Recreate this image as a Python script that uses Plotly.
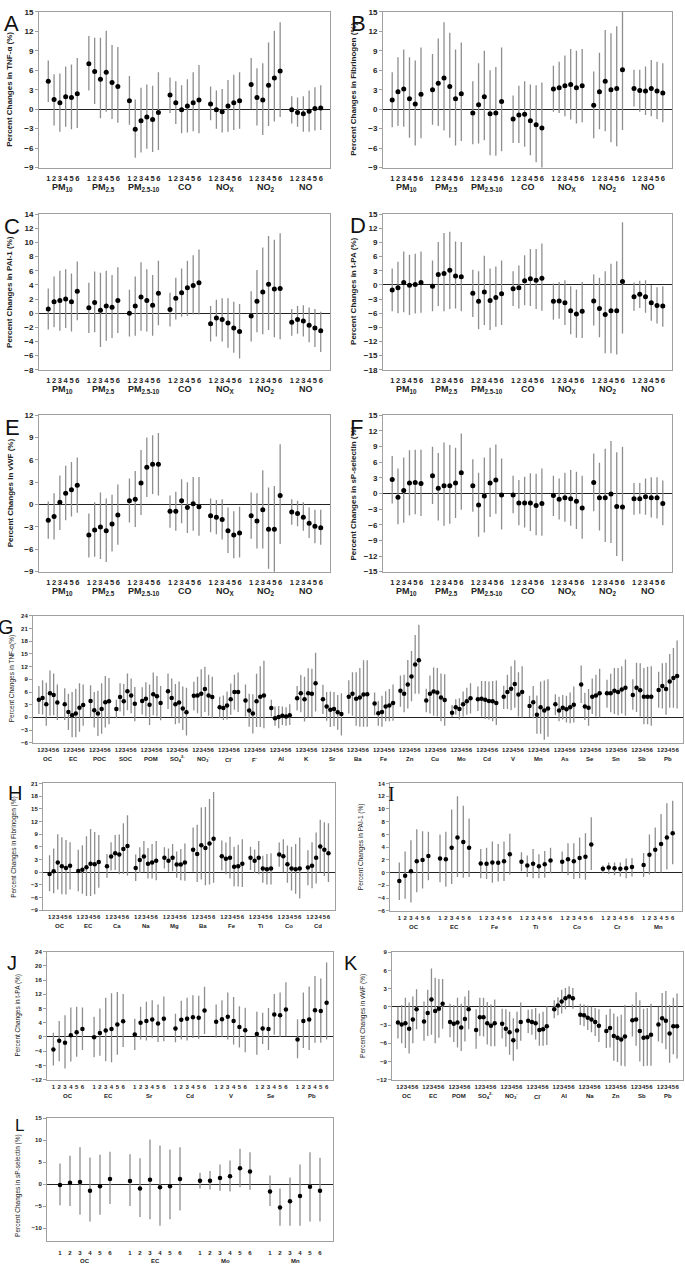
import plotly.graph_objects as go

# ---------------- DATA ----------------
GAS_GROUPS = ["PM<sub>10</sub>", "PM<sub>2.5</sub>", "PM<sub>2.5-10</sub>", "CO", "NO<sub>X</sub>", "NO<sub>2</sub>", "NO"]

A_est = [[4.3,1.5,1.0,1.9,1.8,2.4],[7.0,5.8,4.6,5.7,4.1,3.5],[1.3,-3.1,-1.8,-1.2,-1.6,-0.5],
         [2.2,1.0,-0.1,0.5,1.0,1.4],[0.8,-0.1,-0.4,0.5,1.0,1.3],[3.8,1.8,1.4,3.7,4.8,5.9],[-0.1,-0.5,-0.7,-0.3,0.1,0.2]]
A_hi = [[7.5,5.4,5.5,6.6,6.9,7.9],[11.3,11.0,11.0,12.1,9.9,9.6],[5.1,1.5,3.3,3.8,3.6,5.7],
        [4.9,4.3,3.7,4.6,5.7,6.8],[3.5,2.9,3.1,4.5,5.3,5.7],[7.9,6.3,7.1,10.3,12.1,13.4],[2.0,1.8,2.0,2.9,3.4,3.7]]
A_lo = [[1.1,-2.5,-3.5,-2.7,-3.1,-2.9],[2.9,0.8,-1.4,-0.4,-1.5,-2.1],[-2.4,-7.5,-6.7,-6.1,-6.6,-6.3],
        [-0.6,-2.3,-3.7,-3.6,-3.4,-3.7],[-1.7,-3.0,-3.6,-3.5,-3.2,-3.0],[0.0,-2.5,-4.0,-2.6,-1.9,-1.2],[-2.2,-2.7,-3.5,-3.5,-3.3,-3.2]]

B_est = [[1.4,2.7,3.1,1.6,0.8,2.3],[3.0,4.0,4.8,3.5,1.6,2.4],[-0.6,0.7,1.9,-0.7,-0.6,1.2],
         [-1.5,-0.9,-0.8,-1.8,-2.4,-2.9],[3.1,3.3,3.6,3.8,3.3,3.6],[0.6,2.7,4.3,3.0,3.2,6.1],[3.2,2.9,2.8,3.2,2.8,2.5]]
B_hi = [[5.7,8.0,9.2,8.0,7.5,9.5],[8.5,10.9,13.4,11.8,9.2,10.3],[4.3,7.1,9.0,6.0,6.5,9.5],
        [2.1,3.6,4.3,3.8,3.7,4.1],[6.7,7.3,8.3,9.3,9.0,9.3],[5.8,8.7,12.2,11.7,12.8,16.0],[6.1,6.1,6.6,7.6,7.3,7.1]]
B_lo = [[-2.8,-2.6,-2.7,-4.4,-5.6,-4.5],[-2.4,-2.6,-3.3,-4.4,-5.6,-4.9],[-5.4,-5.3,-4.8,-7.1,-7.2,-6.5],
        [-5.2,-5.2,-5.8,-7.1,-8.2,-9.5],[-0.4,-0.6,-1.1,-1.6,-2.2,-2.0],[-4.5,-3.1,-3.4,-5.1,-5.7,-3.2],[0.4,-0.4,-0.9,-1.1,-1.5,-2.0]]

C_est = [[0.6,1.6,1.8,2.0,1.6,3.1],[0.75,1.5,0.4,1.0,0.85,1.8],[0.0,1.0,2.3,1.8,1.1,2.8],
         [0.5,2.1,2.9,3.6,3.9,4.3],[-1.5,-0.7,-0.9,-1.4,-2.1,-2.6],[-0.4,1.7,3.0,4.1,3.4,3.5],[-1.3,-0.9,-1.1,-1.7,-2.1,-2.5]]
C_hi = [[3.5,5.2,6.0,6.2,5.6,7.3],[4.3,5.9,5.7,6.0,5.4,6.5],[3.3,5.2,7.2,6.2,5.4,7.4],
        [2.9,5.0,6.3,7.4,8.2,9.0],[1.0,1.9,2.1,2.1,1.6,1.3],[3.1,6.1,9.3,10.9,10.4,11.3],[0.6,1.0,1.1,0.8,0.6,0.2]]
C_lo = [[-2.3,-2.0,-2.5,-2.1,-2.6,-1.0],[-2.8,-2.7,-4.8,-3.9,-3.5,-2.8],[-3.3,-3.2,-2.5,-2.6,-3.2,-1.7],
        [-1.9,-0.9,-0.5,-0.4,-0.2,-0.2],[-4.0,-3.3,-4.0,-4.9,-5.6,-6.4],[-4.0,-2.7,-3.0,-2.4,-3.4,-3.7],[-3.2,-2.9,-3.3,-4.1,-4.8,-5.5]]

D_est = [[-1.1,-0.6,0.5,-0.1,0.1,0.5],[-0.3,2.2,2.4,3.1,1.9,1.7],[-1.8,-3.5,-1.5,-3.3,-2.7,-1.9],
         [-0.8,-0.6,0.9,1.3,1.0,1.4],[-3.5,-3.4,-3.8,-5.5,-6.2,-5.6],[-3.4,-5.0,-6.3,-5.5,-5.5,0.7],[-2.5,-2.0,-2.5,-3.8,-4.4,-4.5]]
D_hi = [[3.5,4.9,7.1,6.4,6.6,7.1],[5.2,9.1,11.0,11.3,9.2,9.1],[3.2,2.9,6.2,3.5,3.9,5.2],
        [2.9,4.1,6.3,7.6,7.6,8.8],[0.3,0.6,1.0,-0.3,-1.0,0.6],[2.2,1.5,2.9,4.5,5.0,13.3],[0.5,0.9,1.0,0.0,-0.5,-0.3]]
D_lo = [[-5.6,-6.0,-5.8,-6.4,-6.1,-5.9],[-5.6,-4.5,-5.6,-5.1,-5.0,-5.6],[-6.8,-9.4,-8.5,-9.6,-8.9,-8.5],
        [-4.5,-5.0,-4.3,-4.5,-5.1,-5.5],[-7.4,-7.2,-8.5,-10.5,-11.2,-11.3],[-8.6,-11.1,-14.5,-14.5,-14.8,-10.3],[-5.5,-4.9,-5.9,-7.6,-8.2,-8.9]]

E_est = [[-2.1,-1.6,0.3,1.5,2.0,2.6],[-4.1,-3.4,-3.0,-3.5,-2.6,-1.4],[0.5,0.7,2.9,5.0,5.4,5.4],
         [-0.9,-0.9,0.5,-0.4,0.1,-0.3],[-1.5,-1.7,-2.0,-3.5,-4.1,-3.8],[-1.5,-2.2,-0.7,-3.3,-3.3,1.2],[-1.0,-1.2,-1.7,-2.5,-2.9,-3.1]]
E_hi = [[0.4,1.5,3.9,5.2,5.7,6.3],[-1.2,0.3,1.6,0.8,1.3,2.7],[3.5,4.5,7.3,9.0,9.3,9.6],
        [1.2,1.7,3.4,3.0,3.7,3.7],[0.8,0.6,0.7,-0.4,-0.9,-0.3],[1.6,1.5,4.6,2.3,2.5,8.1],[0.7,0.5,0.3,-0.4,-0.7,-0.7]]
E_lo = [[-4.6,-4.7,-3.4,-2.1,-1.6,-1.1],[-7.1,-7.0,-7.3,-7.7,-6.3,-5.4],[-2.4,-3.0,-1.4,1.0,1.4,1.2],
        [-3.1,-3.5,-2.5,-3.8,-3.5,-4.2],[-3.7,-4.0,-4.7,-6.5,-7.2,-7.1],[-4.6,-5.9,-5.9,-8.6,-9.5,-5.3],[-2.7,-2.9,-3.5,-4.5,-5.2,-5.4]]

F_est = [[2.7,-0.7,0.6,2.0,2.1,1.9],[3.4,1.0,1.5,1.5,2.0,4.0],[1.5,-2.2,-0.5,2.0,2.6,-0.3],
         [-0.3,-1.8,-1.8,-1.8,-2.3,-1.9],[-0.4,-1.1,-0.8,-1.0,-1.5,-2.8],[2.1,-0.8,-0.8,-0.1,-2.5,-2.6],[-1.0,-1.0,-0.6,-0.8,-0.8,-1.9]]
F_hi = [[7.2,4.8,6.9,8.3,8.4,8.4],[9.0,7.8,9.8,9.3,8.8,11.5],[6.6,4.0,6.9,8.8,9.4,6.7],
        [3.4,2.6,3.2,3.9,3.8,4.8],[3.4,2.9,4.0,4.5,4.2,3.4],[7.7,5.9,8.6,10.1,7.9,9.0],[2.0,2.0,2.9,3.1,3.1,2.5]]
F_lo = [[-1.9,-5.9,-5.6,-4.2,-4.0,-4.3],[-2.0,-5.2,-6.2,-5.8,-4.7,-3.1],[-3.5,-8.3,-7.5,-4.5,-3.9,-6.9],
        [-3.8,-6.1,-6.5,-7.2,-8.0,-8.1],[-4.3,-5.0,-5.4,-6.2,-6.8,-8.7],[-3.4,-7.1,-9.3,-9.5,-12.0,-13.0],[-4.1,-3.9,-4.1,-4.6,-4.8,-6.1]]

G_groups = ["OC","EC","POC","SOC","POM","SO<sub>4</sub><sup>2-</sup>","NO<sub>3</sub><sup>-</sup>","Cl<sup>-</sup>","F<sup>-</sup>",
            "Al","K","Sr","Ba","Fe","Zn","Cu","Mo","Cd","V","Mn","As","Se","Sn","Sb","Pb"]
G_est = [[4.2,4.6,3.1,5.7,5.3,3.5],[3.1,1.3,0.5,0.9,2.3,2.9],[3.9,1.7,0.9,2.0,3.6,3.8],[2.0,4.8,3.8,6.2,5.2,3.2],
         [3.9,4.4,3.0,5.5,5.0,3.4],[6.2,4.6,3.1,3.5,2.1,1.2],[5.1,5.2,5.6,6.7,5.2,4.8],[2.4,2.2,2.8,4.3,6.0,6.0],
         [4.0,1.6,0.9,3.8,4.9,5.2],[2.2,-0.2,0.1,0.4,0.2,0.5],[4.5,5.7,4.3,5.7,5.6,8.1],[4.3,2.6,1.8,2.0,1.2,0.8],
         [4.9,5.6,4.4,4.7,5.4,5.5],[3.3,1.0,1.3,2.6,2.8,3.4],[6.3,5.6,7.8,9.7,12.5,13.5],[4.0,5.6,6.1,5.9,4.7,4.1],
         [1.1,2.4,2.0,3.1,3.8,4.5],[4.3,4.4,4.2,3.9,3.8,3.4],[4.9,6.0,6.8,7.9,5.4,6.0],[2.7,3.6,0.6,2.4,1.6,2.1],
         [3.1,1.6,2.3,1.9,2.4,3.0],[7.8,2.6,2.3,4.9,5.2,5.7],[5.7,5.7,6.3,6.0,6.6,7.0],[5.3,7.0,6.4,4.9,4.9,4.9],
         [6.5,7.4,6.7,8.5,9.3,9.8]]
G_hi = [[7.4,8.8,8.2,11.1,10.4,7.8],[6.9,5.6,6.0,6.8,8.1,7.8],[7.6,6.0,6.3,8.1,9.8,9.3],[4.2,8.1,7.9,10.4,9.2,7.2],
        [7.1,8.3,7.8,10.6,9.8,7.4],[10.4,9.2,7.9,8.5,7.3,7.0],[8.4,9.6,11.4,12.0,10.1,9.6],[4.9,5.2,6.1,8.0,10.1,10.6],
        [7.8,5.6,5.5,10.3,12.1,13.4],[4.2,2.6,2.7,2.6,2.4,3.1],[7.4,10.0,9.6,11.6,11.5,15.3],[7.7,6.0,6.1,6.0,5.3,5.7],
        [8.8,10.7,10.7,11.7,13.5,13.5],[5.9,3.9,5.1,6.2,6.7,7.8],[9.9,10.1,13.6,15.7,19.5,21.9],[6.8,9.9,11.8,11.7,10.4,10.2],
        [2.9,4.3,4.5,6.1,7.0,8.1],[7.3,8.6,8.6,8.5,8.6,8.7],[7.5,10.1,12.1,13.5,10.7,12.1],[5.1,7.4,5.2,8.5,8.7,9.0],
        [5.5,4.9,5.3,5.1,5.9,7.3],[12.3,5.8,6.7,9.2,10.1,11.5],[8.9,10.3,11.7,11.7,12.1,13.7],[9.0,12.9,12.8,11.7,12.0,12.1],
        [10.8,12.8,12.9,15.0,16.4,18.2]]
G_lo = [[0.8,0.7,-2.0,0.4,0.5,-0.6],[-0.6,-3.0,-4.7,-4.7,-3.4,-2.0],[0.0,-2.4,-4.4,-3.9,-2.4,-1.6],[-0.2,1.4,0.4,1.7,1.0,-0.9],
        [0.7,0.2,-1.8,0.5,0.2,-0.7],[2.0,0.2,-1.6,-1.4,-3.0,-4.3],[1.6,1.0,-0.1,1.3,0.4,-0.2],[-0.2,-0.6,-0.5,0.6,1.8,1.3],
        [0.2,-2.2,-3.8,-2.3,-2.3,-2.6],[0.2,-2.0,-2.6,-1.8,-2.0,-1.8],[1.6,1.2,-1.0,0.0,0.0,1.4],[0.8,-0.8,-2.3,-2.1,-2.9,-4.3],
        [0.9,0.4,-2.0,-2.2,-2.2,-2.2],[0.5,-2.0,-2.2,-0.9,-0.9,-0.8],[2.5,1.2,2.1,3.8,5.6,5.6],[1.2,0.9,0.4,0.2,-0.9,-2.0],
        [0.1,0.6,-0.5,0.2,0.6,0.9],[1.5,0.2,-0.4,-0.5,-0.9,-1.8],[2.0,2.0,1.7,2.3,0.2,0.0],[0.1,-0.2,-3.9,-3.9,-5.3,-4.6],
        [0.5,-0.9,-0.5,-1.2,-1.4,-1.2],[3.4,-0.6,-2.0,0.8,0.2,0.0],[2.3,1.2,0.8,0.5,0.9,0.4],[1.8,1.3,0.2,-1.6,-1.6,-2.0],
        [2.3,2.1,0.6,2.3,2.3,2.1]]

H_groups = ["OC","EC","Ca","Na","Mg","Ba","Fe","Ti","Co","Cd"]
H_est = [[-0.4,0.2,2.3,1.4,1.0,1.5],[0.3,0.6,1.2,2.0,1.9,2.4],[1.4,3.7,4.5,4.2,5.5,6.2],[1.0,2.9,3.7,2.0,2.3,2.7],
         [3.4,2.7,3.4,1.8,1.8,2.3],[5.3,4.3,6.4,5.7,6.8,7.9],[3.8,3.2,3.4,1.3,1.4,2.0],[3.4,2.7,3.4,0.9,0.7,0.9],
         [4.2,3.8,1.9,0.9,0.7,0.9],[1.1,1.5,3.4,6.1,5.3,4.5]]
H_hi = [[4.0,5.6,9.0,8.3,7.6,7.1],[5.3,6.4,8.5,10.2,9.5,8.8],[4.3,7.1,8.8,8.9,11.6,13.5],[4.2,5.9,7.4,5.7,6.7,7.4],
        [5.9,5.6,6.7,4.9,5.5,6.8],[10.6,11.2,15.3,15.4,17.3,19.0],[7.5,7.0,8.4,6.0,6.5,7.8],[6.0,5.4,7.4,3.9,4.3,4.5],
        [7.0,7.8,6.3,6.0,6.7,8.2],[5.2,7.1,9.4,12.4,11.8,11.6]]
H_lo = [[-4.5,-5.0,-4.1,-5.2,-5.3,-4.1],[-4.5,-5.1,-5.6,-5.6,-5.2,-3.7],[-1.3,0.4,0.5,-0.5,-0.4,-0.8],[-2.1,-0.2,0.0,-1.5,-1.5,-1.9],
        [0.9,0.0,0.2,-1.3,-1.9,-2.0],[0.1,-2.3,-1.7,-3.1,-2.9,-2.5],[0.4,-0.5,-1.5,-3.3,-3.4,-3.5],[0.5,-0.2,-0.5,-2.5,-2.9,-2.9],
        [1.3,0.0,-2.5,-4.3,-5.1,-6.2],[-3.1,-3.8,-2.7,0.0,-0.9,-2.3]]

I_groups = ["OC","EC","Fe","Ti","Co","Cr","Mn"]
I_est = [[-1.3,-0.5,0.2,1.8,2.0,2.6],[2.2,2.1,3.9,5.5,4.8,3.9],[1.45,1.4,1.6,1.55,1.8,2.9],[1.7,1.1,1.4,1.0,1.3,1.9],
         [1.7,2.1,1.8,2.3,2.5,4.4],[0.6,0.8,0.7,0.6,0.7,0.9],[1.2,2.8,3.6,4.5,5.5,6.2]]
I_hi = [[1.6,3.3,5.1,6.8,6.5,6.4],[6.0,6.4,9.9,12.0,10.5,8.5],[3.7,3.9,4.9,4.5,4.9,6.1],[3.2,2.7,3.7,2.9,3.4,3.9],
        [3.3,4.6,4.6,5.5,6.2,8.7],[1.1,1.6,1.6,1.6,2.2,2.3],[3.1,6.0,7.1,9.2,10.9,11.3]]
I_lo = [[-4.3,-4.1,-4.7,-3.1,-2.5,-1.2],[-1.5,-2.2,-1.8,-0.7,-0.8,-0.7],[-0.9,-1.0,-1.6,-1.4,-1.3,-0.3],[0.2,-0.7,-0.9,-0.9,-0.8,-0.1],
        [0.0,-0.4,-1.0,-0.9,-1.1,0.4],[-0.05,-0.2,-0.4,-0.6,-0.9,-0.6],[-0.7,-0.3,0.0,0.0,0.5,1.3]]

J_groups = ["OC","EC","Sr","Cd","V","Se","Pb"]
J_est = [[-3.5,-1.1,-1.6,0.5,1.3,2.2],[-0.1,1.1,1.8,2.2,3.5,4.4],[0.7,4.0,4.5,4.9,3.8,5.1],[2.4,4.8,5.1,5.5,5.4,7.4],
         [4.3,5.0,5.7,4.5,2.8,1.9],[0.8,2.4,2.2,6.3,6.1,7.7],[-0.7,4.5,4.9,7.5,7.3,9.6]]
J_hi = [[1.2,4.5,6.1,8.3,8.5,8.3],[5.7,8.0,11.0,12.3,12.6,12.1],[5.1,8.5,9.9,10.3,9.1,11.4],[6.5,10.2,11.0,11.7,11.6,14.1],
        [9.1,10.3,12.5,11.2,8.6,8.2],[7.1,6.8,8.1,12.1,12.5,15.4],[5.0,12.5,14.2,17.1,16.4,20.9]]
J_lo = [[-8.0,-6.8,-8.9,-6.9,-5.6,-3.7],[-5.7,-5.3,-6.8,-7.1,-5.0,-2.8],[-3.7,-0.7,-1.0,-0.4,-1.4,-1.2],[-1.5,-0.7,-1.0,-0.3,-0.5,0.8],
        [-0.2,-0.1,-0.7,-2.1,-3.0,-4.3],[-5.0,-2.0,-3.7,0.6,0.0,0.2],[-6.0,-3.1,-3.7,-1.6,-1.6,-0.7]]

K_groups = ["OC","EC","POM","SO<sub>4</sub><sup>2-</sup>","NO<sub>3</sub><sup>-</sup>","Cl<sup>-</sup>","Al","Na","Zn","Sb","Pb"]
K_est = [[-2.6,-2.9,-2.7,-3.6,-2.1,-0.4],[-2.4,-1.0,1.2,-0.7,-0.3,0.5],[-2.5,-2.8,-2.6,-3.4,-2.0,-0.4],[-3.8,-1.7,-1.7,-2.7,-3.1,-2.7],
         [-2.8,-3.6,-4.2,-5.5,-3.9,-2.5],[-2.3,-2.5,-2.7,-3.8,-3.7,-3.2],[-0.4,0.2,0.9,1.4,1.7,1.4],[-1.3,-1.4,-1.8,-2.1,-2.5,-3.1],
         [-4.0,-3.5,-4.8,-5.1,-5.4,-4.9],[-2.2,-2.1,-4.0,-5.1,-5.0,-4.6],[-2.9,-1.9,-2.3,-4.4,-3.2,-3.2]]
K_hi = [[0.0,0.3,1.5,0.7,1.7,2.9],[0.9,2.8,6.3,4.8,4.6,4.6],[0.5,0.3,1.5,0.5,1.7,2.7],[-0.4,1.5,1.5,0.8,0.4,1.2],
        [-0.3,-0.4,-0.8,-1.9,-0.8,0.7],[-0.5,-0.4,-0.2,-1.1,-0.8,0.1],[1.1,1.6,2.8,3.1,3.4,3.1],[0.5,0.4,0.2,0.0,-0.2,-0.4],
        [-1.3,-0.3,-1.1,-1.6,-1.3,0.3],[0.4,2.4,1.1,-0.3,-0.2,0.5],[0.0,2.3,2.6,0.3,1.5,2.2]]
K_lo = [[-5.2,-6.0,-6.8,-7.7,-6.0,-3.7],[-5.6,-4.8,-4.6,-6.0,-5.1,-3.6],[-5.0,-5.8,-6.7,-7.3,-5.7,-3.7],[-6.9,-4.8,-4.9,-6.2,-6.5,-6.5],
        [-5.2,-6.6,-7.9,-8.9,-7.0,-5.6],[-4.3,-4.6,-5.4,-6.4,-6.4,-6.3],[-1.9,-1.4,-1.1,-0.4,0.1,-0.3],[-3.0,-3.2,-3.8,-4.2,-4.8,-5.8],
        [-6.8,-6.7,-8.9,-9.1,-9.7,-9.8],[-4.9,-6.4,-9.0,-9.8,-9.7,-9.7],[-5.7,-6.0,-7.0,-9.2,-7.8,-8.5]]

L_groups = ["OC","EC","Mo","Mn"]
L_est = [[-0.2,0.3,0.5,-1.5,-0.5,1.2],[0.7,-1.0,1.0,-0.7,-0.5,1.2],[0.8,0.8,1.4,1.8,3.6,2.9],[-1.7,-5.3,-3.9,-2.7,-0.6,-1.5]]
L_hi = [[4.7,6.5,8.4,6.1,6.7,7.4],[6.8,5.9,10.2,8.8,7.9,8.4],[2.6,3.0,4.5,5.4,8.1,7.3],[2.0,-1.0,1.5,4.5,7.3,6.0]]
L_lo = [[-4.8,-5.0,-7.0,-8.5,-7.0,-4.5],[-5.0,-7.5,-8.0,-9.5,-8.0,-6.0],[-1.0,-1.2,-1.5,-1.7,-0.7,-1.3],[-5.0,-9.5,-9.5,-9.5,-8.5,-8.5]]

# ---------------- LAYOUT SPEC ----------------
W, H = 685, 1272
FONT = "Arial, Liberation Sans, sans-serif"
panels = [
    dict(letter="A", groups=GAS_GROUPS, est=A_est, lo=A_lo, hi=A_hi, box=(39, 8, 330, 164.7), yr=(-9, 15), dt=3,
         title="Percent Changes in TNF-α (%)", big=True, lpos=(11.5, 20)),
    dict(letter="B", groups=GAS_GROUPS, est=B_est, lo=B_lo, hi=B_hi, box=(383, 8, 672, 164.7), yr=(-9, 15), dt=3,
         title="Percent Changes in Fibrinogen (%)", big=True, lpos=(358, 20)),
    dict(letter="C", groups=GAS_GROUPS, est=C_est, lo=C_lo, hi=C_hi, box=(39, 211.7, 330, 368.3), yr=(-8, 14), dt=2,
         title="Percent Changes in PAI-1 (%)", big=True, lpos=(11.5, 224)),
    dict(letter="D", groups=GAS_GROUPS, est=D_est, lo=D_lo, hi=D_hi, box=(383, 211.7, 672, 368.3), yr=(-18, 15), dt=3,
         title="Percent Changes in t-PA (%)", big=True, lpos=(358, 223)),
    dict(letter="E", groups=GAS_GROUPS, est=E_est, lo=E_lo, hi=E_hi, box=(39, 414, 330, 571.7), yr=(-9, 12), dt=3,
         title="Percent Changes in vWF (%)", big=True, lpos=(12, 427)),
    dict(letter="F", groups=GAS_GROUPS, est=F_est, lo=F_lo, hi=F_hi, box=(383, 414.3, 672, 571.7), yr=(-15, 15), dt=3,
         title="Percent Changes in sP-selectin (%)", big=True, lpos=(356, 427)),
    dict(letter="G", groups=G_groups, est=G_est, lo=G_lo, hi=G_hi, box=(33, 616.3, 683, 744), yr=(-6, 24), dt=3,
         title="Percent Changes in TNF-α(%)", big=False, lpos=(6, 627)),
    dict(letter="H", groups=H_groups, est=H_est, lo=H_lo, hi=H_hi, box=(43, 785, 335, 912.7), yr=(-9, 21), dt=3,
         title="Percent Changes in Fibrinogen (%)", big=False, lpos=(14.5, 795)),
    dict(letter="I", groups=I_groups, est=I_est, lo=I_lo, hi=I_hi, box=(390, 785, 682, 913.3), yr=(-6, 14), dt=2,
         title="Percent Changes in PAI-1 (%)", big=False, lpos=(391, 796)),
    dict(letter="J", groups=J_groups, est=J_est, lo=J_lo, hi=J_hi, box=(47, 954.3, 333, 1083.3), yr=(-12, 24), dt=4,
         title="Percent Changes in t-PA (%)", big=False, lpos=(12, 966), margin=1.1),
    dict(letter="K", groups=K_groups, est=K_est, lo=K_lo, hi=K_hi, box=(392, 955, 683, 1083.3), yr=(-12, 9), dt=3,
         title="Percent Changes in vWF (%)", big=False, lpos=(351, 966)),
    dict(letter="L", groups=L_groups, est=L_est, lo=L_lo, hi=L_hi, box=(47, 1122.3, 333, 1246), yr=(-13, 15), dt=5,
         title="Percent Changes in sP-selectin (%)", big=False, lpos=(19, 1129), margin=1.3, low=True),
]

fig = go.Figure()
annotations = []
PERIOD = 7  # six lags + one empty slot per pollutant

for k, p in enumerate(panels, start=1):
    xa = "x" if k == 1 else f"x{k}"
    ya = "y" if k == 1 else f"y{k}"
    ng = len(p["groups"])
    xs, ys, up, dn, tv, tt = [], [], [], [], [], []
    for g in range(ng):
        for i in range(6):
            x = g * PERIOD + i
            e = p["est"][g][i]
            xs.append(x); ys.append(e)
            up.append(p["hi"][g][i] - e); dn.append(e - p["lo"][g][i])
            tv.append(x); tt.append(str(i + 1))
    big = p["big"]
    fig.add_trace(go.Scatter(
        x=xs, y=ys, mode="markers", xaxis=xa, yaxis=ya, showlegend=False, hoverinfo="skip",
        marker=dict(color="black", size=5 if big else 4.5),
        error_y=dict(type="data", symmetric=False, array=up, arrayminus=dn,
                     color="#8e8e8e", thickness=1.3, width=0),
    ))
    l, t, r, b = p["box"]
    m = p.get("margin", 1.6)
    last = (ng - 1) * PERIOD + 5
    low = p.get("low", False)
    fig.update_layout(**{
        ("xaxis" if k == 1 else f"xaxis{k}"): dict(
            domain=[l / W, r / W], anchor=ya, range=[-m, last + m],
            showgrid=False, zeroline=False, showline=True, mirror=True, linecolor="#a0a0a0", linewidth=1,
            tickmode="array", tickvals=tv, ticktext=tt, tickangle=0, ticks="",
            tickfont=dict(family=FONT, size=7.5 if big else 6, color="#222", weight="bold"),
            ticklabelstandoff=(3 if big else (6 if low else 1)),
        ),
        ("yaxis" if k == 1 else f"yaxis{k}"): dict(
            domain=[1 - b / H, 1 - t / H], anchor=xa, range=list(p["yr"]), dtick=p["dt"], tick0=0,
            showgrid=False, zeroline=True, zerolinecolor="#222", zerolinewidth=1,
            showline=True, mirror=True, linecolor="#a0a0a0", linewidth=1,
            ticks="outside", ticklen=3, tickcolor="#a0a0a0",
            tickfont=dict(family=FONT, size=8 if big else 6, color="#222", weight="bold"),
        ),
    })
    for g, name in enumerate(p["groups"]):
        annotations.append(dict(
            x=g * PERIOD + 2.5, xref=xa, y=0, yref=f"{ya} domain", yanchor="middle",
            yshift=-19.5 if big else (-20 if low else -16), text=f"<b>{name}</b>", showarrow=False,
            font=dict(family=FONT, size=9 if big else 6, color="#222")))
    annotations.append(dict(
        x=0, xref=f"{xa} domain", xshift=-29 if k != 7 else -21, xanchor="center",
        y=0.5 if not low else 0.45, yref=f"{ya} domain", yanchor="middle", textangle=-90,
        text=f"<b>{p['title']}</b>" if big else p["title"], showarrow=False,
        font=dict(family=FONT, size=8 if big else 6.5, color="#222")))
    lx, ly = p["lpos"]
    annotations.append(dict(
        x=lx / W, y=1 - ly / H, xref="paper", yref="paper", xanchor="center", yanchor="middle",
        text=p["letter"], showarrow=False,
        font=dict(family=FONT if p["letter"] != "I" else "Liberation Serif, Times New Roman, serif",
                  size=22 if big else (20 if not low else 17), color="#111")))

fig.update_layout(
    width=W, height=H, margin=dict(l=0, r=0, t=0, b=0, pad=0),
    paper_bgcolor="white", plot_bgcolor="white", annotations=annotations,
    font=dict(family=FONT),
)
fig.write_html("out.html", config={"displayModeBar": False, "staticPlot": True},
               post_script="document.body.style.margin='0';")
